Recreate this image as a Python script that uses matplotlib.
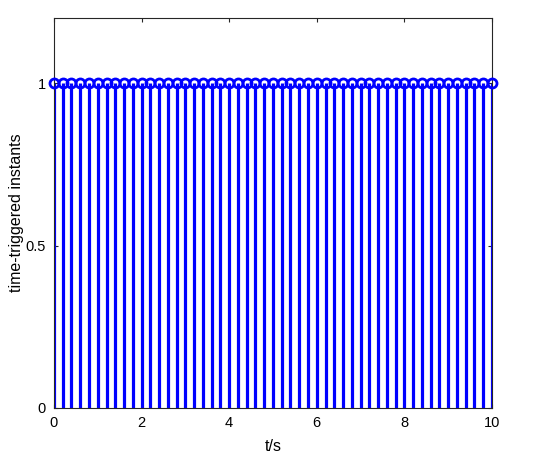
import matplotlib
matplotlib.use("Agg")
import matplotlib.pyplot as plt
import numpy as np

plt.rcParams['font.family'] = ['Liberation Sans', 'DejaVu Sans']

t = [round(0.2 * i, 1) for i in range(51)]
values = [1] * len(t)
xticks = [0, 2, 4, 6, 8, 10]
yticks = [0, 0.5, 1]
yticklabels = ['0', '0.5', '1']

fig = plt.figure(figsize=(5.43, 4.62), dpi=100)
ax = fig.add_axes([0.0994, 0.1169, 0.8066, 0.8441])

markerline, stemlines, baseline = ax.stem(t, values, basefmt=' ')
plt.setp(stemlines, color='#0000ff', linewidth=2.3)
plt.setp(markerline, color='#0000ff', marker='o', markersize=6.5,
         markerfacecolor='none', markeredgewidth=2.0, clip_on=False, zorder=3)

ax.set_xlim(0, 10)
ax.set_ylim(0, 1.2)
ax.set_xticks(xticks)
ax.set_xticklabels([str(v) for v in xticks])
ax.set_yticks(yticks)
ax.set_yticklabels(yticklabels)
ax.tick_params(direction='in', length=3, width=0.8, color='#262626',
               labelsize=10.5, pad=6, top=True, right=True)
for s in ax.spines.values():
    s.set_color('#262626')
    s.set_linewidth(0.8)
ax.set_xlabel('t/s', fontsize=11.5, labelpad=6)
ax.set_ylabel('time-triggered instants', fontsize=11.5, labelpad=1)

fig.savefig('out.png', dpi=100)
